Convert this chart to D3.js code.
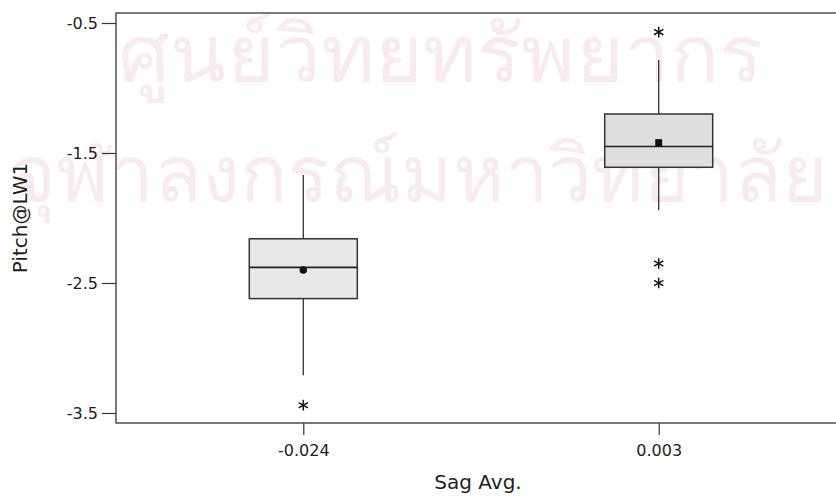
<!DOCTYPE html>
<html>
<head>
<meta charset="utf-8">
<script src="https://cdn.jsdelivr.net/npm/d3@7"></script>
<style>
  body { margin: 0; background: #ffffff; }
  svg text { font-family: "DejaVu Sans", Verdana, sans-serif; }
</style>
</head>
<body>
<div id="chart"></div>
<script>
"use strict"

// Data (Minitab style box plot)
const categories = ["-0.024", "0.003"];
const whiskerLow = [-3.21, -1.94];
const q1 = [-2.62, -1.61];
const median = [-2.38, -1.45];
const q3 = [-2.16, -1.20];
const whiskerHigh = [-1.67, -0.785];
const means = [-2.40, -1.42];
const outliers = [[-3.44], [-0.57, -2.35, -2.50]];

const yTickValues = [-0.5, -1.5, -2.5, -3.5];
const yTickLabels = ["-0.5", "-1.5", "-2.5", "-3.5"];

const watermark = ["ศูนย์วิทยทรัพยากร", "จุฬาลงกรณ์มหาวิทยาลัย"];

// Figure dimensions
const figWidth = 836;
const figHeight = 497;

// Plot frame (right side runs past the window edge)
const frame = {left: 116, top: 13, right: 846, bottom: 423};

const textColor = "#1e1e1e";

const svg = d3.select("#chart").append("svg")
  .attr("width", figWidth)
  .attr("height", figHeight);

// Faint watermark behind everything (scanned thesis stamp)
const wm = svg.append("g").attr("class", "watermark");

wm.append("text")
  .attr("x", 118)
  .attr("y", 82)
  .attr("textLength", 645)
  .attr("lengthAdjust", "spacingAndGlyphs")
  .style("font-size", "80px")
  .style("fill", "#f9eaf1")
  .text(watermark[0]);

wm.append("text")
  .attr("x", 10)
  .attr("y", 202)
  .attr("textLength", 818)
  .attr("lengthAdjust", "spacingAndGlyphs")
  .style("font-size", "80px")
  .style("fill", "#f9eaf1")
  .text(watermark[1]);

// Scales
const yScale = d3.scaleLinear()
  .domain([-0.5, -3.5])
  .range([23, 413]);

const xScale = d3.scalePoint()
  .domain(categories)
  .range([frame.left, frame.right])
  .padding(0.527);

const boxWidth = 108;

// Frame around the plot
svg.append("rect")
  .attr("x", frame.left)
  .attr("y", frame.top)
  .attr("width", frame.right - frame.left)
  .attr("height", frame.bottom - frame.top)
  .attr("fill", "none")
  .attr("stroke", "#333")
  .attr("stroke-width", 1.3);

// Axes
const yAxis = d3.axisLeft(yScale)
  .tickValues(yTickValues)
  .tickFormat((d, i) => yTickLabels[i])
  .tickSize(14)
  .tickPadding(4);

const xAxis = d3.axisBottom(xScale)
  .tickSize(12)
  .tickPadding(10);

const yAxisG = svg.append("g")
  .attr("transform", `translate(${frame.left},0)`)
  .call(yAxis);

const xAxisG = svg.append("g")
  .attr("transform", `translate(0,${frame.bottom})`)
  .call(xAxis);

[yAxisG, xAxisG].forEach(g => {
  g.select(".domain").remove();
  g.selectAll(".tick line").attr("stroke", "#333").attr("stroke-width", 1.2);
  g.selectAll(".tick text")
    .style("font-size", "16px")
    .style("fill", textColor);
});

// Axis titles
svg.append("text")
  .attr("x", (frame.left + frame.right) / 2 - 3)
  .attr("y", 489)
  .style("text-anchor", "middle")
  .style("font-size", "20px")
  .style("fill", textColor)
  .text("Sag Avg.");

svg.append("text")
  .attr("transform", `translate(27,${(frame.top + frame.bottom) / 2}) rotate(-90)`)
  .style("text-anchor", "middle")
  .style("font-size", "20px")
  .style("fill", textColor)
  .text("Pitch@LW1");

// Box plots
const boxes = svg.append("g").attr("class", "boxes");

categories.forEach((cat, i) => {
  const cx = xScale(cat);
  const g = boxes.append("g");

  // whiskers
  g.append("line")
    .attr("x1", cx).attr("x2", cx)
    .attr("y1", yScale(whiskerHigh[i]))
    .attr("y2", yScale(q3[i]))
    .attr("stroke", "#333").attr("stroke-width", 1.3);
  g.append("line")
    .attr("x1", cx).attr("x2", cx)
    .attr("y1", yScale(q1[i]))
    .attr("y2", yScale(whiskerLow[i]))
    .attr("stroke", "#333").attr("stroke-width", 1.3);

  // box
  g.append("rect")
    .attr("x", cx - boxWidth / 2)
    .attr("y", yScale(q3[i]))
    .attr("width", boxWidth)
    .attr("height", yScale(q1[i]) - yScale(q3[i]))
    .attr("fill", i == 0 ? "#e8e8e8" : "#dedede")
    .attr("stroke", "#333")
    .attr("stroke-width", 1.5);

  // median line
  g.append("line")
    .attr("x1", cx - boxWidth / 2).attr("x2", cx + boxWidth / 2)
    .attr("y1", yScale(median[i])).attr("y2", yScale(median[i]))
    .attr("stroke", "#222").attr("stroke-width", 1.6);

  // mean symbol (circle on the first, square on the second)
  g.append("path")
    .attr("transform", `translate(${cx},${yScale(means[i])})`)
    .attr("d", d3.symbol().type(i == 0 ? d3.symbolCircle : d3.symbolSquare).size(i == 0 ? 44 : 48)())
    .attr("fill", "#111");

  // outliers
  g.selectAll(".outlier")
    .data(outliers[i])
    .enter().append("path")
      .attr("class", "outlier")
      .attr("transform", d => `translate(${cx},${yScale(d)})`)
      .attr("d", d3.symbol().type(d3.symbolAsterisk).size(80)())
      .attr("fill", "none")
      .attr("stroke", "#111")
      .attr("stroke-width", 1.5);
});
</script>
</body>
</html>
